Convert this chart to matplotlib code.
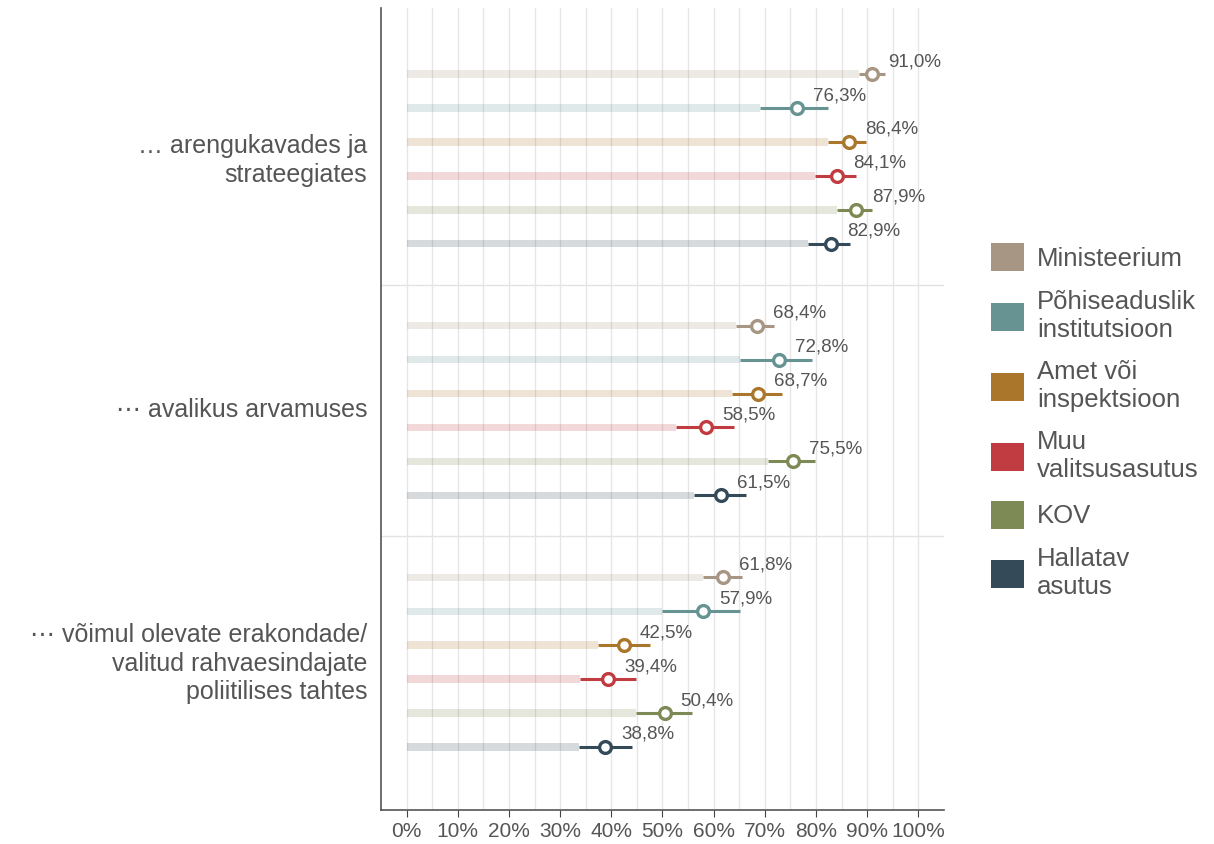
import matplotlib
matplotlib.use("Agg")
import matplotlib.pyplot as plt
from matplotlib.patches import Patch
import numpy as np

plt.rcParams['font.family'] = ['Liberation Sans', 'DejaVu Sans']

groups = ["… arengukavades ja\nstrateegiates",
          "⋯ avalikus arvamuses",
          "⋯ võimul olevate erakondade/\nvalitud rahvaesindajate\npoliitilises tahtes"]
series = ["Ministeerium", "Põhiseaduslik\ninstitutsioon", "Amet või\ninspektsioon",
          "Muu\nvalitsusasutus", "KOV", "Hallatav\nasutus"]
colors = ["#a89684", "#679393", "#aa762c", "#c03c41", "#7e8a55", "#344a59"]

# values per group (rows = groups, cols = series)
values = [
    [91.0, 76.3, 86.4, 84.1, 87.9, 82.9],
    [68.4, 72.8, 68.7, 58.5, 75.5, 61.5],
    [61.8, 57.9, 42.5, 39.4, 50.4, 38.8],
]
lower = [
    [88.3, 69.1, 82.4, 79.7, 84.0, 78.5],
    [64.4, 65.2, 63.6, 52.7, 70.7, 56.2],
    [57.9, 50.0, 37.5, 33.9, 44.9, 33.6],
]
upper = [
    [93.5, 82.4, 89.8, 87.9, 91.0, 86.7],
    [71.7, 79.3, 73.4, 64.0, 79.7, 66.4],
    [65.5, 65.2, 47.6, 44.9, 55.8, 44.0],
]

fig = plt.figure(figsize=(12.14, 8.44), dpi=100)
ax = fig.add_axes([0.3138, 0.0403, 0.4638, 0.9502])

gap = 7.42
txt = "#555555"
for g in range(len(groups)):
    for i in range(len(series)):
        y = g * gap + i
        v = values[g][i]
        c = colors[i]
        ax.barh(y, lower[g][i], height=0.22, color=c, alpha=0.2, lw=0, zorder=2)
        ax.plot([lower[g][i], upper[g][i]], [y, y], color=c, lw=2.2,
                solid_capstyle='butt', zorder=3)
        ax.plot(v, y, marker='o', ms=8.5, mfc='white', mec=c, mew=2.4, zorder=4)
        ax.annotate(f"{v:.1f}%".replace(".", ","), (v, y), xytext=(11.5, 9),
                    textcoords='offset points', ha='left', va='center',
                    fontsize=13.5, color=txt, zorder=5)
    if g > 0:
        ax.axhline(g * gap - 1.21, color="#e3e3e3", lw=1, zorder=1)

ax.set_xlim(-5, 105)
ax.set_ylim(21.7, -1.95)
ax.set_xticks(np.arange(0, 101, 10))
ax.set_xticklabels([f"{t}%" for t in range(0, 101, 10)], fontsize=15, color=txt)
ax.set_xticks(np.arange(0, 101, 5), minor=True)
ax.grid(axis='x', which='both', color="#e6e6e6", lw=1, zorder=0)
ax.tick_params(axis='x', which='major', length=5, color="#444444", direction='out')
ax.tick_params(axis='x', which='minor', length=0)

ax.set_yticks([g * gap + 2.4 for g in range(len(groups))])
ax.set_yticklabels(groups, fontsize=18, color=txt, ha='right', linespacing=1.25)
ax.tick_params(axis='y', length=0, pad=10)

for s in ["top", "right"]:
    ax.spines[s].set_visible(False)
for s in ["left", "bottom"]:
    ax.spines[s].set_color("#555555")
    ax.spines[s].set_linewidth(1.2)

handles = [Patch(facecolor=c, edgecolor='none') for c in colors]
leg = fig.legend(handles, series, loc='center left', bbox_to_anchor=(0.816, 0.501),
                 frameon=False, fontsize=18.5, labelcolor=txt, handlelength=1.3,
                 handleheight=1.3, handletextpad=0.5, labelspacing=0.72,
                 borderpad=0, borderaxespad=0)
for t in leg.get_texts():
    t.set_linespacing(1.2)

fig.savefig("out.png", dpi=100)
